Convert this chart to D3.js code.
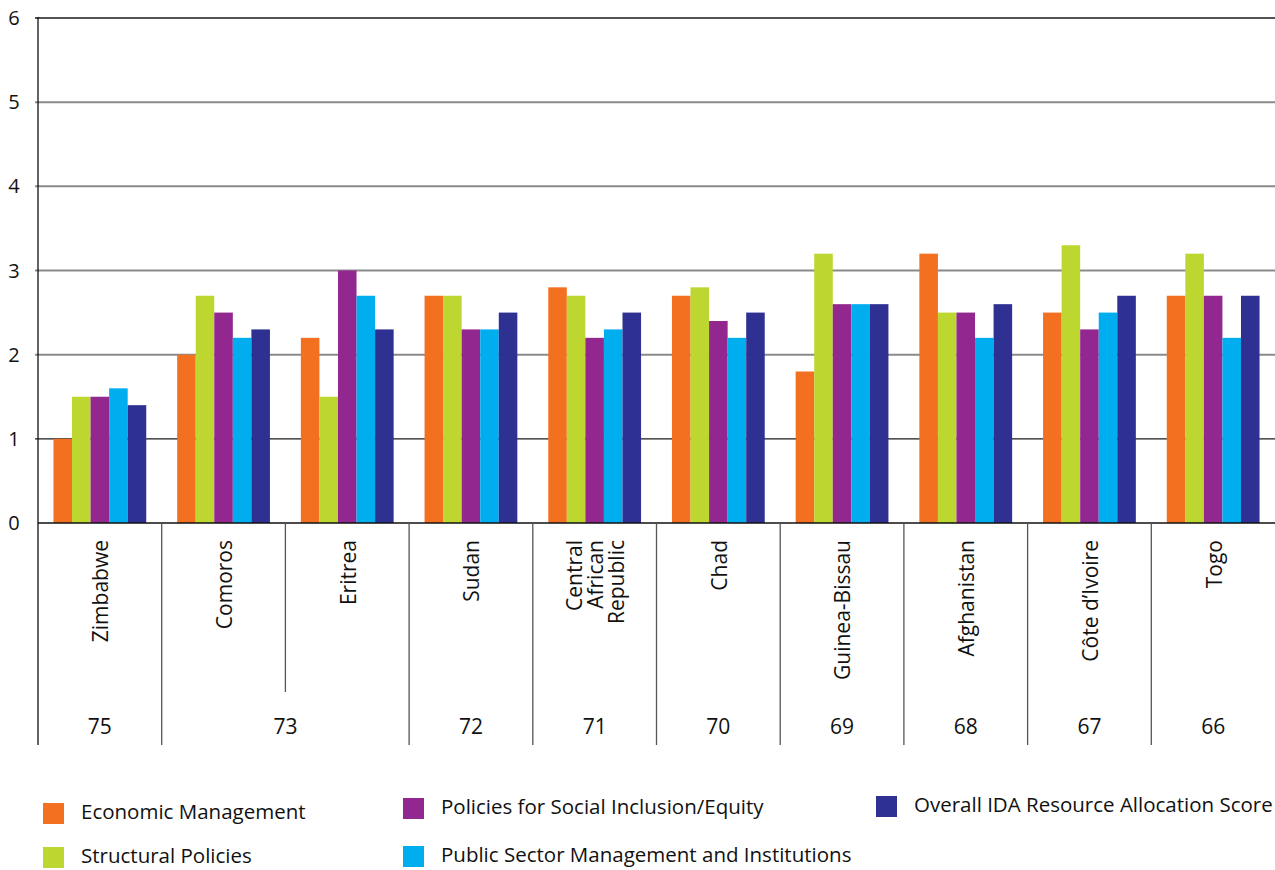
<!DOCTYPE html>
<html>
<head>
<meta charset="utf-8">
<script src="https://cdn.jsdelivr.net/npm/d3@7"></script>
<style>
  html, body { margin: 0; padding: 0; background: #fff; }
  svg { display: block; font-family: "Open Sans", "Noto Sans", sans-serif; }
</style>
</head>
<body>
<svg id="chart" width="1275" height="870"></svg>
<script>
// Countries in ranking order, with their rank shown under the axis
const countries = ["Zimbabwe", "Comoros", "Eritrea", "Sudan", "Central African Republic",
  "Chad", "Guinea-Bissau", "Afghanistan", "Côte d\u2019Ivoire", "Togo"];
const rankGroups = [
  { rank: "75", from: 0, to: 0 },
  { rank: "73", from: 1, to: 2 },
  { rank: "72", from: 3, to: 3 },
  { rank: "71", from: 4, to: 4 },
  { rank: "70", from: 5, to: 5 },
  { rank: "69", from: 6, to: 6 },
  { rank: "68", from: 7, to: 7 },
  { rank: "67", from: 8, to: 8 },
  { rank: "66", from: 9, to: 9 }
];
const seriesNames = ["Economic Management", "Structural Policies",
  "Policies for Social Inclusion/Equity", "Public Sector Management and Institutions",
  "Overall IDA Resource Allocation Score"];
const economicManagement   = [1.0, 2.0, 2.2, 2.7, 2.8, 2.7, 1.8, 3.2, 2.5, 2.7];
const structuralPolicies   = [1.5, 2.7, 1.5, 2.7, 2.7, 2.8, 3.2, 2.5, 3.3, 3.2];
const socialInclusion      = [1.5, 2.5, 3.0, 2.3, 2.2, 2.4, 2.6, 2.5, 2.3, 2.7];
const publicSector         = [1.6, 2.2, 2.7, 2.3, 2.3, 2.2, 2.6, 2.2, 2.5, 2.2];
const overallScore         = [1.4, 2.3, 2.3, 2.5, 2.5, 2.5, 2.6, 2.6, 2.7, 2.7];
const yTicks = [0, 1, 2, 3, 4, 5, 6];

const seriesValues = [economicManagement, structuralPolicies, socialInclusion, publicSector, overallScore];
const colors = ["#F37021", "#BED730", "#92278F", "#00AEEF", "#2E3192"];

const svg = d3.select("#chart");
const plotLeft = 38, plotRight = 1275, plotTop = 18, plotBase = 523, dividerBottom = 745;

const x = d3.scaleBand().domain(countries).range([plotLeft, plotRight]).padding(0);
const bw = x.bandwidth();
const xs = d3.scaleBand().domain(seriesNames).range([bw * 0.125, bw * 0.875]).padding(0);
const y = d3.scaleLinear().domain([0, 6]).range([plotBase, plotTop]);

// horizontal grid lines
svg.append("g").selectAll("line").data(yTicks.filter(t => t > 0)).join("line")
  .attr("x1", plotLeft - 3).attr("x2", plotRight)
  .attr("y1", d => y(d)).attr("y2", d => y(d))
  .attr("stroke", d => (d === 1 || d === 6) ? "#1a1a1a" : "#8a8a8a")
  .attr("stroke-width", d => (d === 1 || d === 6) ? 1.3 : 2);

// bars
const groups = svg.append("g").selectAll("g").data(countries).join("g")
  .attr("transform", d => `translate(${x(d)},0)`);
groups.selectAll("rect")
  .data((c, i) => seriesNames.map((s, k) => ({ s, v: seriesValues[k][i], k })))
  .join("rect")
  .attr("x", d => xs(d.s))
  .attr("width", xs.bandwidth())
  .attr("y", d => y(d.v))
  .attr("height", d => y(0) - y(d.v))
  .attr("fill", d => colors[d.k]);

// axis lines
svg.append("line").attr("x1", plotLeft).attr("x2", plotRight).attr("y1", plotBase).attr("y2", plotBase)
  .attr("stroke", "#111").attr("stroke-width", 1.5);
svg.append("line").attr("x1", plotLeft).attr("x2", plotLeft).attr("y1", plotTop - 1).attr("y2", dividerBottom)
  .attr("stroke", "#111").attr("stroke-width", 1.3);

// y tick labels
svg.append("g").selectAll("text").data(yTicks).join("text")
  .attr("x", 14).attr("y", d => y(d))
  .attr("dy", "0.35em")
  .attr("text-anchor", "middle")
  .attr("font-size", 20)
  .attr("fill", "#111")
  .text(d => d);

// category dividers under the axis
const dividers = countries.slice(1).map(c => ({
  x: x(c),
  short: c === "Eritrea"
}));
svg.append("g").selectAll("line").data(dividers).join("line")
  .attr("x1", d => d.x).attr("x2", d => d.x)
  .attr("y1", plotBase).attr("y2", d => d.short ? 692 : dividerBottom)
  .attr("stroke", "#555").attr("stroke-width", 1.3);

// country labels (rotated)
const labelLines = c => c === "Central African Republic" ? ["Central", "African", "Republic"] : [c];
svg.append("g").selectAll("text").data(countries).join("text")
  .attr("transform", d => `translate(${x(d) + bw / 2 + 1},540) rotate(-90)`)
  .attr("text-anchor", "end")
  .attr("font-size", 21)
  .attr("fill", "#111")
  .each(function (d) {
    const lines = labelLines(d);
    const lh = 21;
    const t = d3.select(this);
    lines.forEach((ln, i) => {
      t.append("tspan").attr("x", 0)
        .attr("y", (i - (lines.length - 1) / 2) * lh)
        .attr("dy", "0.35em")
        .text(ln);
    });
  });

// rank labels
svg.append("g").selectAll("text").data(rankGroups).join("text")
  .attr("x", d => (x(countries[d.from]) + x(countries[d.to]) + bw) / 2)
  .attr("y", 727)
  .attr("dy", "0.35em")
  .attr("text-anchor", "middle")
  .attr("font-size", 21)
  .attr("fill", "#111")
  .text(d => d.rank);

// legend
const legendPos = [
  { x: 43, y: 803 }, { x: 43, y: 847 }, { x: 403, y: 798 }, { x: 403, y: 846 }, { x: 876, y: 796 }
];
const lg = svg.append("g").selectAll("g").data(seriesNames).join("g")
  .attr("transform", (d, i) => `translate(${legendPos[i].x},${legendPos[i].y})`);
lg.append("rect").attr("width", 21).attr("height", 21).attr("fill", (d, i) => colors[i]);
lg.append("text").attr("x", 38).attr("y", 9).attr("dy", "0.35em")
  .attr("font-size", 20.5).attr("fill", "#111")
  .text(d => d);
</script>
</body>
</html>
